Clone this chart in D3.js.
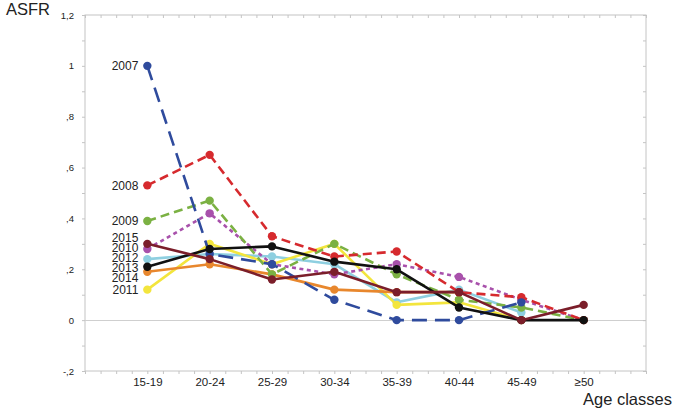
<!DOCTYPE html>
<html>
<head>
<meta charset="utf-8">
<script src="https://cdn.jsdelivr.net/npm/d3@7"></script>
<style>
  html, body { margin: 0; padding: 0; background: #fff; }
  svg { display: block; font-family: "Liberation Sans", Arial, sans-serif; }
</style>
</head>
<body>
<svg id="chart" width="677" height="409"></svg>
<script>
// Age-specific fertility rates by year.
const ageClasses = ["15-19", "20-24", "25-29", "30-34", "35-39", "40-44", "45-49", "≥50"];
const yTickValues = [-0.2, 0, 0.2, 0.4, 0.6, 0.8, 1.0, 1.2];

const asfr2007 = [1.00, 0.26, 0.22, 0.08, 0.00, 0.00, 0.07, null];
const asfr2008 = [0.53, 0.65, 0.33, 0.25, 0.27, 0.11, 0.09, 0.00];
const asfr2009 = [0.39, 0.47, 0.18, 0.30, 0.18, 0.08, 0.05, 0.00];
const asfr2010 = [0.28, 0.42, 0.22, 0.18, 0.22, 0.17, 0.08, 0.00];
const asfr2011 = [0.12, 0.30, 0.22, 0.30, 0.06, 0.07, 0.00, null];
const asfr2012 = [0.24, 0.26, 0.25, 0.22, 0.07, 0.12, 0.03, null];
const asfr2013 = [0.21, 0.28, 0.29, 0.23, 0.20, 0.05, 0.00, 0.00];
const asfr2014 = [0.19, 0.22, 0.18, 0.12, 0.11, 0.11, null, null];
const asfr2015 = [0.30, 0.24, 0.16, 0.19, 0.11, 0.11, 0.00, 0.06];

// drawing order: later series sit on top
const series = [
  { year: "2012", values: asfr2012, color: "#8ecfe0", dash: null },
  { year: "2011", values: asfr2011, color: "#f3e53d", dash: null },
  { year: "2014", values: asfr2014, color: "#e8872d", dash: null },
  { year: "2010", values: asfr2010, color: "#a851ab", dash: "4,3.5" },
  { year: "2009", values: asfr2009, color: "#7bb143", dash: "9,5" },
  { year: "2008", values: asfr2008, color: "#d62a2e", dash: "9,5" },
  { year: "2007", values: asfr2007, color: "#2f4b9d", dash: "15,8" },
  { year: "2013", values: asfr2013, color: "#111111", dash: null },
  { year: "2015", values: asfr2015, color: "#7b1e2a", dash: null }
];

const svg = d3.select("#chart");
const margin = { left: 85, right: 31, top: 15, bottom: 38 };
const width = 677, height = 409;
const axisColor = "#c4c4c4";

// categories sit on whole units 1..n of a continuous axis, with quarter-unit minor ticks
const x = d3.scaleLinear().domain([0, ageClasses.length + 1]).range([margin.left, width - margin.right]);
const y = d3.scaleLinear().domain([-0.2, 1.2]).range([height - margin.bottom, margin.top]);

/** "1,2", "1", ",8", "0", "-,2" — the comma-decimal style of the original. */
function fmtTick(v) {
  const r = Math.round(v * 10) / 10;
  if (r === 0) return "0";
  const sign = r < 0 ? "-" : "";
  const a = Math.abs(r);
  const whole = Math.floor(a + 1e-9);
  const dec = Math.round((a - whole) * 10);
  return sign + (whole ? whole : "") + (dec ? "," + dec : "");
}

const minorY = d3.range(-2, 13).map(d => d / 10);
const minorX = d3.range(0, (ageClasses.length + 1) * 4 + 1).map(d => d / 4);

// frame
const g = svg.append("g");
g.append("rect")
  .attr("x", x.range()[0]).attr("y", y.range()[1])
  .attr("width", x.range()[1] - x.range()[0])
  .attr("height", y.range()[0] - y.range()[1])
  .attr("fill", "none").attr("stroke", axisColor).attr("stroke-width", 1);

// zero line
g.append("line")
  .attr("x1", x.range()[0]).attr("x2", x.range()[1])
  .attr("y1", Math.round(y(0)) + 0.5).attr("y2", Math.round(y(0)) + 0.5)
  .attr("stroke", "#cfcfcf").attr("stroke-width", 1.2);

function styleAxis(sel) {
  sel.select(".domain").remove();
  sel.selectAll(".tick line").attr("stroke", axisColor);
}

// left axis: minor ticks, labels at major values
g.append("g").attr("transform", `translate(${x.range()[0]},0)`)
  .call(d3.axisLeft(y).tickValues(minorY).tickSize(3).tickFormat(""))
  .call(styleAxis);
g.append("g").attr("transform", `translate(${x.range()[0]},0)`)
  .call(d3.axisLeft(y).tickValues(yTickValues).tickSize(0).tickPadding(11).tickFormat(fmtTick))
  .call(sel => sel.select(".domain").remove())
  .selectAll("text").attr("font-size", 9.5).attr("fill", "#222");

// right axis ticks pointing inward
g.append("g").attr("transform", `translate(${x.range()[1]},0)`)
  .call(d3.axisLeft(y).tickValues(minorY).tickSize(3).tickFormat(""))
  .call(styleAxis);

// top axis ticks pointing inward
g.append("g").attr("transform", `translate(0,${y.range()[1]})`)
  .call(d3.axisBottom(x).tickValues(minorX).tickSize(3).tickFormat(""))
  .call(styleAxis);

// bottom axis: minor ticks + category labels
g.append("g").attr("transform", `translate(0,${y.range()[0]})`)
  .call(d3.axisBottom(x).tickValues(minorX).tickSize(3).tickFormat(""))
  .call(styleAxis);
g.append("g").attr("transform", `translate(0,${y.range()[0]})`)
  .call(d3.axisBottom(x).tickValues(ageClasses.map((d, i) => i + 1)).tickSize(0).tickPadding(7)
    .tickFormat(i => ageClasses[i - 1]))
  .call(sel => sel.select(".domain").remove())
  .selectAll("text").attr("font-size", 11.5).attr("fill", "#222");

// series lines and markers
const line = d3.line()
  .defined(d => d != null)
  .x((d, i) => x(i + 1))
  .y(d => y(d));

const lines = g.append("g");
series.forEach(s => {
  const sg = lines.append("g");
  sg.append("path")
    .attr("d", line(s.values))
    .attr("fill", "none")
    .attr("stroke", s.color)
    .attr("stroke-width", 2.6)
    .attr("stroke-dasharray", s.dash)
    .attr("stroke-linejoin", "round");
  sg.selectAll("circle")
    .data(s.values.map((v, i) => ({ v, i })).filter(d => d.v != null))
    .join("circle")
    .attr("cx", d => x(d.i + 1))
    .attr("cy", d => y(d.v))
    .attr("r", 4.2)
    .attr("fill", s.color);
});

// year labels beside the first point, spread apart so they do not overlap
const labels = series.map(s => ({ year: s.year, target: y(s.values[0]) }))
  .sort((a, b) => a.target - b.target);
labels.forEach(l => { l.pos = l.target; });
const gap = 10;
for (let iter = 0; iter < 200; iter++) {
  for (let i = 1; i < labels.length; i++) {
    const overlap = gap - (labels[i].pos - labels[i - 1].pos);
    if (overlap > 0) {
      labels[i - 1].pos -= overlap / 2;
      labels[i].pos += overlap / 2;
    }
  }
}
g.append("g").selectAll("text")
  .data(labels)
  .join("text")
  .attr("x", x(1) - 9)
  .attr("y", d => d.pos)
  .attr("dy", "0.35em")
  .attr("text-anchor", "end")
  .attr("font-size", 12)
  .attr("fill", "#222")
  .text(d => d.year);

// axis titles
svg.append("text").attr("x", 6).attr("y", 15)
  .attr("font-size", 16.5).attr("fill", "#222").text("ASFR");
svg.append("text").attr("x", 583).attr("y", 405)
  .attr("font-size", 16.5).attr("fill", "#222").text("Age classes");
</script>
</body>
</html>
